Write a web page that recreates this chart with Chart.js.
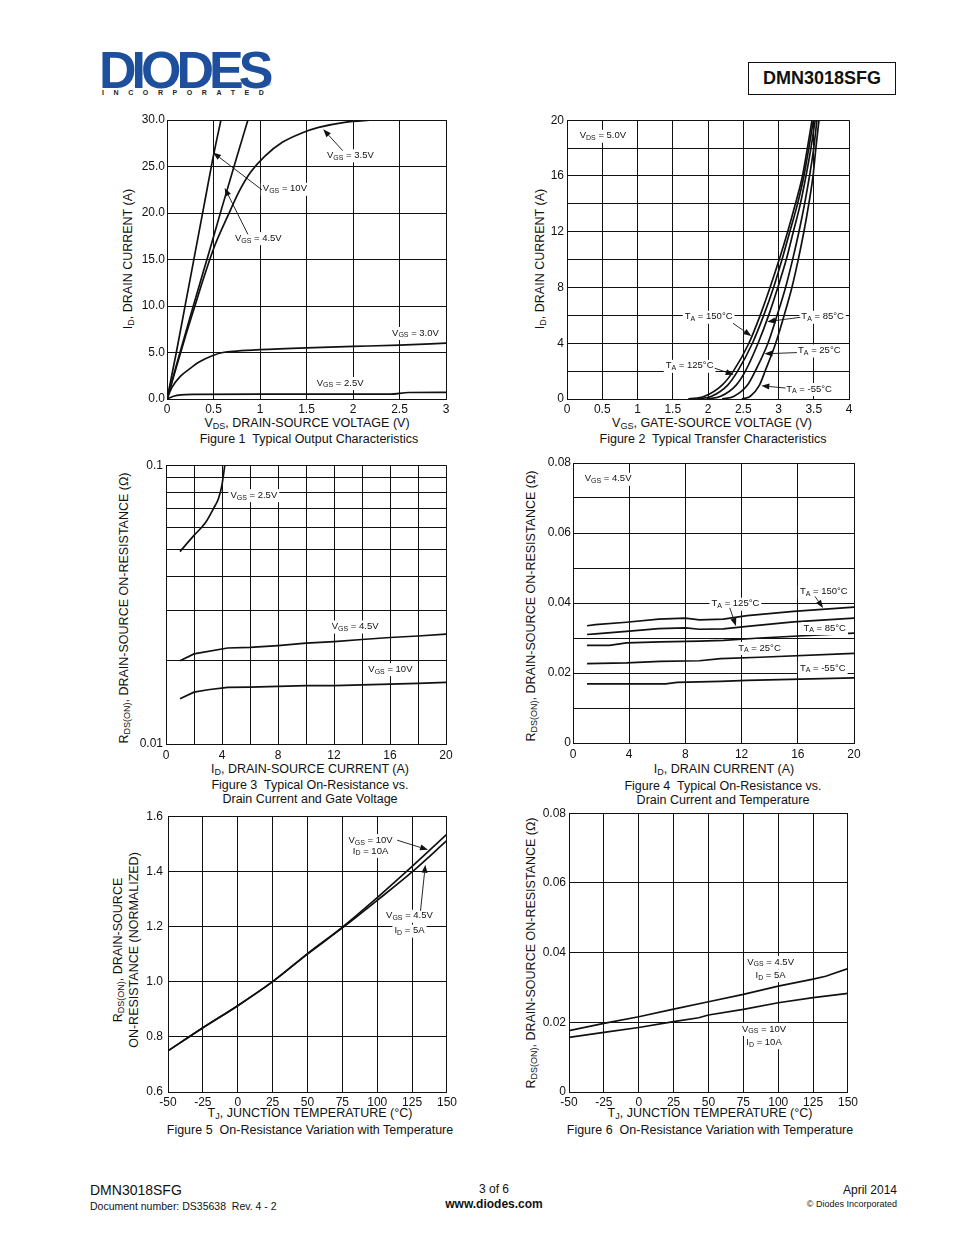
<!DOCTYPE html>
<html lang="en">
<head>
<meta charset="UTF-8" />
<title>DMN3018SFG - page 3</title>
<script src="https://cdn.jsdelivr.net/npm/chart.js"></script>
<style>
  body { margin: 0; background: #fff; }
  #page { position: relative; width: 954px; height: 1235px; overflow: hidden; font-family: "Liberation Sans", Arial, sans-serif; color: #111; }
  #page canvas { position: absolute; }
  .t { position: absolute; white-space: nowrap; font-size: 12.5px; line-height: 1; transform: translate(-50%, -50%); }
  .ty { transform: translate(-50%, -50%) rotate(-90deg); }
  .t sub { font-size: 0.72em; vertical-align: -0.3em; line-height: 0; }
  .logo { position: absolute; left: 99px; top: 44px; font-size: 52px; font-weight: bold; color: #1d4f9c; letter-spacing: -5px; line-height: 52px; }
  .inc { position: absolute; left: 102px; top: 89px; font-size: 7px; font-weight: bold; letter-spacing: 9.6px; line-height: 8px; color: #222; }
  .reg { position: absolute; left: 266px; top: 80px; font-size: 7px; color: #1d4f9c; }
  .pn { position: absolute; left: 748px; top: 62px; width: 148px; height: 33px; box-sizing: border-box; border: 1.3px solid #111;
        display: flex; align-items: center; justify-content: center; font-size: 18px; font-weight: bold; }
  .ft { position: absolute; white-space: nowrap; line-height: 1; }
</style>
</head>
<body>
<div id="page">
  <!-- header -->
  <div class="logo">DIODES</div>
  <div class="reg">®</div>
  <div class="inc">INCORPORATED</div>
  <div class="pn">DMN3018SFG</div>

  <!-- figure 1 -->
  <div class="t ty" style="left:128px; top:259px;">I<sub>D</sub>, DRAIN CURRENT (A)</div>
  <div class="t" style="left:307px; top:423px;">V<sub>DS</sub>, DRAIN-SOURCE VOLTAGE (V)</div>
  <div class="t" style="left:309px; top:439px;">Figure 1&nbsp; Typical Output Characteristics</div>

  <!-- figure 2 -->
  <div class="t ty" style="left:540px; top:259px;">I<sub>D</sub>, DRAIN CURRENT (A)</div>
  <div class="t" style="left:712px; top:423px;">V<sub>GS</sub>, GATE-SOURCE VOLTAGE (V)</div>
  <div class="t" style="left:713px; top:439px;">Figure 2&nbsp; Typical Transfer Characteristics</div>

  <!-- figure 3 -->
  <div class="t ty" style="left:124px; top:608px;">R<sub>DS(ON)</sub>, DRAIN-SOURCE ON-RESISTANCE (Ω)</div>
  <div class="t" style="left:310px; top:769px;">I<sub>D</sub>, DRAIN-SOURCE CURRENT (A)</div>
  <div class="t" style="left:310px; top:785px;">Figure 3&nbsp; Typical On-Resistance vs.</div>
  <div class="t" style="left:310px; top:799px;">Drain Current and Gate Voltage</div>

  <!-- figure 4 -->
  <div class="t ty" style="left:531px; top:606px;">R<sub>DS(ON)</sub>, DRAIN-SOURCE ON-RESISTANCE (Ω)</div>
  <div class="t" style="left:724px; top:769px;">I<sub>D</sub>, DRAIN CURRENT (A)</div>
  <div class="t" style="left:723px; top:786px;">Figure 4&nbsp; Typical On-Resistance vs.</div>
  <div class="t" style="left:723px; top:800px;">Drain Current and Temperature</div>

  <!-- figure 5 -->
  <div class="t ty" style="left:118px; top:950px;">R<sub>DS(ON)</sub>, DRAIN-SOURCE</div>
  <div class="t ty" style="left:134px; top:950px;">ON-RESISTANCE (NORMALIZED)</div>
  <div class="t" style="left:310px; top:1113px;">T<sub>J</sub>, JUNCTION TEMPERATURE (°C)</div>
  <div class="t" style="left:310px; top:1130px;">Figure 5&nbsp; On-Resistance Variation with Temperature</div>

  <!-- figure 6 -->
  <div class="t ty" style="left:531px; top:953px;">R<sub>DS(ON)</sub>, DRAIN-SOURCE ON-RESISTANCE (Ω)</div>
  <div class="t" style="left:710px; top:1113px;">T<sub>J</sub>, JUNCTION TEMPERATURE (°C)</div>
  <div class="t" style="left:710px; top:1130px;">Figure 6&nbsp; On-Resistance Variation with Temperature</div>

  <!-- footer -->
  <div class="ft" style="left:90px; top:1183px; font-size:14px;">DMN3018SFG</div>
  <div class="ft" style="left:90px; top:1201px; font-size:10.5px;">Document number: DS35638&nbsp; Rev. 4 - 2</div>
  <div class="ft" style="left:494px; top:1183px; font-size:12px; transform:translateX(-50%);">3 of 6</div>
  <div class="ft" style="left:494px; top:1198px; font-size:12px; font-weight:bold; transform:translateX(-50%);">www.diodes.com</div>
  <div class="ft" style="right:57px; top:1184px; font-size:12px;">April 2014</div>
  <div class="ft" style="right:57px; top:1200px; font-size:9px;">© Diodes Incorporated</div>
</div>

<script>
  // ---- Figure 1: output characteristics (VDS in V, ID in A)
  const fig1XTicks = [0, 0.5, 1, 1.5, 2, 2.5, 3];
  const fig1YTicks = [0, 5, 10, 15, 20, 25, 30];
  const fig1V_10 = [0, 0.1, 0.2, 0.3, 0.4, 0.5, 0.58];
  const fig1I_10 = [0, 5.0, 10.3, 15.6, 20.9, 26.2, 30];
  const fig1V_45 = [0, 0.1, 0.2, 0.3, 0.45, 0.6, 0.75, 0.87];
  const fig1I_45 = [0, 3.6, 7.1, 10.6, 15.7, 20.9, 26.0, 30];
  const fig1V_35 = [0, 0.1, 0.2, 0.3, 0.4, 0.51, 0.65, 0.78, 0.9, 1.05, 1.24, 1.45, 1.63, 1.91, 2.22];
  const fig1I_35 = [0, 3.4, 6.8, 10, 13.2, 16.4, 19.6, 22.4, 24.4, 26.1, 27.6, 28.6, 29.2, 29.75, 30];
  const fig1V_30 = [0, 0.05, 0.14, 0.25, 0.35, 0.5, 0.6, 0.75, 1, 1.5, 2, 2.5, 3];
  const fig1I_30 = [0, 1.2, 2.4, 3.3, 4.0, 4.7, 5.0, 5.15, 5.3, 5.5, 5.65, 5.8, 6.0];
  const fig1V_25 = [0, 0.07, 0.15, 0.3, 1, 2, 2.4, 2.6, 3];
  const fig1I_25 = [0, 0.3, 0.45, 0.5, 0.52, 0.52, 0.52, 0.7, 0.72];

  // ---- Figure 2: transfer characteristics (ID in A, VGS in V per temperature)
  const fig2XTicks = [0, 0.5, 1, 1.5, 2, 2.5, 3, 3.5, 4];
  const fig2YTicks = [0, 2, 4, 6, 8, 10, 12, 14, 16, 18, 20];
  const fig2Id    = [0, 0.2, 1, 2, 4, 6, 8, 10, 12, 14, 16, 18, 20];
  const fig2V_150 = [1.72, 1.95, 2.20, 2.36, 2.58, 2.74, 2.88, 3.01, 3.13, 3.24, 3.34, 3.41, 3.475];
  const fig2V_125 = [1.84, 2.05, 2.28, 2.42, 2.63, 2.79, 2.93, 3.05, 3.16, 3.27, 3.36, 3.43, 3.495];
  const fig2V_85  = [1.98, 2.18, 2.40, 2.53, 2.71, 2.86, 2.99, 3.11, 3.21, 3.31, 3.39, 3.46, 3.52];
  const fig2V_25  = [2.20, 2.37, 2.56, 2.67, 2.85, 2.98, 3.10, 3.20, 3.29, 3.37, 3.44, 3.50, 3.545];
  const fig2V_m55 = [2.48, 2.60, 2.73, 2.81, 2.96, 3.08, 3.19, 3.28, 3.36, 3.43, 3.49, 3.53, 3.574];

  // ---- Figure 3: RDS(ON) vs ID and VGS (log axis)
  const fig3XTicks = [0, 2, 4, 6, 8, 10, 12, 14, 16, 18, 20];
  const fig3YTicks = [0.01, 0.02, 0.03, 0.04, 0.05, 0.06, 0.07, 0.08, 0.09, 0.1];
  const fig3I_25 = [1, 2, 2.8, 3.4, 3.75, 4.0, 4.1, 4.2];
  const fig3R_25 = [0.049, 0.056, 0.062, 0.070, 0.076, 0.085, 0.092, 0.1];
  const fig3I_45 = [1, 2, 4.4, 6, 8, 10, 12, 14, 16, 18, 20];
  const fig3R_45 = [0.0199, 0.02105, 0.0221, 0.0222, 0.02255, 0.0230, 0.0233, 0.0237, 0.0241, 0.0244, 0.0248];
  const fig3I_10 = [1, 2, 3, 4.4, 6, 8, 10, 12, 14, 16, 18, 20];
  const fig3R_10 = [0.01453, 0.01535, 0.01565, 0.01596, 0.0160, 0.0161, 0.0162, 0.0162, 0.0163, 0.0164, 0.0165, 0.01664];

  // ---- Figure 4: RDS(ON) vs ID and temperature
  const fig4XTicks = [0, 4, 8, 12, 16, 20];
  const fig4YTicks = [0, 0.01, 0.02, 0.03, 0.04, 0.05, 0.06, 0.07, 0.08];
  const fig4I_hot = [1, 1.6, 3.8, 6.1, 8, 9, 10.7, 12.4, 15.7, 20];
  const fig4R_150 = [0.0335, 0.0338, 0.0345, 0.0354, 0.0357, 0.0352, 0.0354, 0.0364, 0.0376, 0.0388];
  const fig4R_125 = [0.0310, 0.0312, 0.0319, 0.0327, 0.0329, 0.0325, 0.0326, 0.0333, 0.0346, 0.0357];
  const fig4I_85  = [1, 2.6, 3.8, 6.2, 9, 10.7, 13.3, 20];
  const fig4R_85  = [0.0279, 0.0279, 0.0286, 0.0289, 0.0291, 0.0293, 0.0300, 0.0314];
  const fig4I_25  = [1, 3.8, 6.2, 9, 10.5, 13.3, 20];
  const fig4R_25  = [0.0227, 0.0229, 0.0233, 0.0235, 0.0241, 0.0245, 0.0256];
  const fig4I_m55 = [1, 6.6, 7.4, 10.5, 12.4, 20];
  const fig4R_m55 = [0.0169, 0.0169, 0.0173, 0.0176, 0.0179, 0.0186];

  // ---- Figure 5: normalized RDS(ON) vs TJ
  const fig5XTicks = [-50, -25, 0, 25, 50, 75, 100, 125, 150];
  const fig5YTicks = [0.6, 0.8, 1.0, 1.2, 1.4, 1.6];
  const fig5T   = [-50, -25, 0, 25, 50, 75, 100, 125, 150];
  const fig5R10 = [0.749, 0.833, 0.913, 1.0, 1.102, 1.198, 1.305, 1.418, 1.535];
  const fig5R45 = [0.749, 0.833, 0.913, 1.0, 1.100, 1.195, 1.295, 1.398, 1.512];

  // ---- Figure 6: RDS(ON) vs TJ
  const fig6XTicks = [-50, -25, 0, 25, 50, 75, 100, 125, 150];
  const fig6YTicks = [0, 0.02, 0.04, 0.06, 0.08];
  const fig6T45 = [-50, -25, 0, 25, 50, 75, 100, 125, 134, 150];
  const fig6R45 = [0.0176, 0.0197, 0.0216, 0.0238, 0.0259, 0.0280, 0.0304, 0.0324, 0.0332, 0.0354];
  const fig6T10 = [-50, -25, 0, 25, 43, 50, 75, 100, 125, 150];
  const fig6R10 = [0.0157, 0.0171, 0.0185, 0.0202, 0.0213, 0.0221, 0.0237, 0.0256, 0.0271, 0.0283];

  // annotation labels ("_" = subscript part) and arrows [x1, y1, tipX, tipY], in data units
  const fig1Labels = [
    { x: 1.72, y: 26.2, t: ['V', '_GS', ' = 3.5V'] },
    { x: 1.03, y: 22.6, t: ['V', '_GS', ' = 10V'] },
    { x: 0.73, y: 17.3, t: ['V', '_GS', ' = 4.5V'] },
    { x: 2.42, y: 7.1,  t: ['V', '_GS', ' = 3.0V'] },
    { x: 1.61, y: 1.72, t: ['V', '_GS', ' = 2.5V'] }
  ];
  const fig1Arrows = [[1.89, 26.7, 1.68, 29.0], [1.02, 22.5, 0.495, 26.5], [0.87, 17.7, 0.62, 22.7]];

  const fig2Labels = [
    { x: 0.18,  y: 18.88, t: ['V', '_DS', ' = 5.0V'] },
    { x: 1.67,  y: 5.9,   t: ['T', '_A', ' = 150°C'] },
    { x: 3.324, y: 5.9,   t: ['T', '_A', ' = 85°C'] },
    { x: 3.277, y: 3.48,  t: ['T', '_A', ' = 25°C'] },
    { x: 1.40,  y: 2.38,  t: ['T', '_A', ' = 125°C'] },
    { x: 3.11,  y: 0.714, t: ['T', '_A', ' = -55°C'] }
  ];
  const fig2Arrows = [[2.355, 5.43, 2.615, 4.52], [3.31, 5.86, 2.84, 5.55], [3.26, 3.33, 2.80, 3.24],
                      [2.095, 2.21, 2.364, 1.74], [3.10, 0.786, 2.757, 0.95]];

  const fig3Labels = [
    { x: 4.6,   y: 0.0781,  t: ['V', '_GS', ' = 2.5V'] },
    { x: 11.84, y: 0.02638, t: ['V', '_GS', ' = 4.5V'] },
    { x: 14.45, y: 0.01856, t: ['V', '_GS', ' = 10V'] }
  ];

  const fig4Labels = [
    { x: 0.83,  y: 0.0755,  t: ['V', '_GS', ' = 4.5V'] },
    { x: 16.15, y: 0.04333, t: ['T', '_A', ' = 150°C'] },
    { x: 9.86,  y: 0.0398,  t: ['T', '_A', ' = 125°C'] },
    { x: 16.4,  y: 0.03286, t: ['T', '_A', ' = 85°C'] },
    { x: 11.76, y: 0.02714, t: ['T', '_A', ' = 25°C'] },
    { x: 16.15, y: 0.02143, t: ['T', '_A', ' = -55°C'] }
  ];
  const fig4Arrows = [[17.22, 0.0419, 17.8, 0.0386], [11.16, 0.0386, 11.6, 0.0334]];

  const fig5Labels = [
    { x: 95.2,  y: 1.513, c: 1, t: ['V', '_GS', ' = 10V'] },
    { x: 95.2,  y: 1.474, c: 1, t: ['I', '_D', ' = 10A'] },
    { x: 123.1, y: 1.239, c: 1, t: ['V', '_GS', ' = 4.5V'] },
    { x: 123.1, y: 1.185, c: 1, t: ['I', '_D', ' = 5A'] }
  ];
  const fig5Arrows = [[114.3, 1.513, 136.4, 1.478], [131, 1.257, 134.5, 1.424]];

  const fig6Labels = [
    { x: 94.5, y: 0.03733, c: 1, t: ['V', '_GS', ' = 4.5V'] },
    { x: 94.5, y: 0.03352, c: 1, t: ['I', '_D', ' = 5A'] },
    { x: 89.8, y: 0.0181,  c: 1, t: ['V', '_GS', ' = 10V'] },
    { x: 89.8, y: 0.01429, c: 1, t: ['I', '_D', ' = 10A'] }
  ];

  Chart.defaults.font.family = '"Liberation Sans", Arial, sans-serif';
  Chart.defaults.font.size = 12;
  Chart.defaults.color = '#111';

  const FONT = '"Liberation Sans", Arial, sans-serif';

  // text labels with subscripts + arrows, placed with the chart's own scales
  const notesPlugin = {
    id: 'notes',
    afterDatasetsDraw(chart, args, o) {
      const ctx = chart.ctx, sx = chart.scales.x, sy = chart.scales.y;
      ctx.save();
      ctx.textBaseline = 'middle';
      (o.labels || []).forEach(n => {
        const px = sx.getPixelForValue(n.x), py = sy.getPixelForValue(n.y);
        let w = 0;
        const parts = n.t.map(s => {
          const sub = s[0] === '_';
          const txt = sub ? s.slice(1) : s;
          ctx.font = (sub ? '7px ' : '9.5px ') + FONT;
          const mw = ctx.measureText(txt).width;
          w += mw;
          return { txt, sub, mw };
        });
        let x0 = n.c ? px - w / 2 : px;
        ctx.fillStyle = '#fff';
        ctx.fillRect(x0 - 2, py - 6, w + 4, 13);
        ctx.fillStyle = '#111';
        parts.forEach(p => {
          ctx.font = (p.sub ? '7px ' : '9.5px ') + FONT;
          ctx.fillText(p.txt, x0, p.sub ? py + 2.5 : py);
          x0 += p.mw;
        });
      });
      ctx.strokeStyle = '#111';
      ctx.fillStyle = '#111';
      ctx.lineWidth = 0.9;
      (o.arrows || []).forEach(a => {
        const x1 = sx.getPixelForValue(a[0]), y1 = sy.getPixelForValue(a[1]);
        const x2 = sx.getPixelForValue(a[2]), y2 = sy.getPixelForValue(a[3]);
        const ang = Math.atan2(y2 - y1, x2 - x1);
        const bx = x2 - 8 * Math.cos(ang), by = y2 - 8 * Math.sin(ang);
        ctx.beginPath();
        ctx.moveTo(x1, y1);
        ctx.lineTo(bx, by);
        ctx.stroke();
        ctx.beginPath();
        ctx.moveTo(x2, y2);
        ctx.lineTo(bx + 3 * Math.sin(ang), by - 3 * Math.cos(ang));
        ctx.lineTo(bx - 3 * Math.sin(ang), by + 3 * Math.cos(ang));
        ctx.closePath();
        ctx.fill();
      });
      ctx.restore();
    }
  };

  const PADL = 45, PADR = 12, PADT = 10, PADB = 22;

  function pts(xs, ys) { return xs.map((v, i) => ({ x: v, y: ys[i] })); }

  function line(xs, ys, smooth) {
    return {
      data: pts(xs, ys), borderColor: '#111', borderWidth: 1.7, pointRadius: 0, fill: false, showLine: true,
      cubicInterpolationMode: smooth ? 'monotone' : 'default', tension: 0
    };
  }

  function axis(isY, type, min, max, ticks, fmt, pad) {
    return {
      type, min, max,
      afterBuildTicks: s => { s.ticks = ticks.map(v => ({ value: v })); },
      afterFit: s => { if (isY) s.width = PADL; else s.height = PADB; },
      ticks: { autoSkip: false, maxRotation: 0, padding: pad, color: '#111', font: { size: 12 }, callback: fmt },
      grid: { color: '#111', lineWidth: 1, drawTicks: false },
      border: { color: '#111', width: 1 }
    };
  }

  function addChart(box, datasets, xAxis, yAxis, labels, arrows) {
    const c = document.createElement('canvas');
    const w = box.R - box.L + PADL + PADR, h = box.B - box.T + PADT + PADB;
    c.width = w; c.height = h;
    c.style.left = (box.L - PADL) + 'px';
    c.style.top = (box.T - PADT) + 'px';
    c.style.width = w + 'px';
    c.style.height = h + 'px';
    document.getElementById('page').appendChild(c);
    new Chart(c.getContext('2d'), {
      type: 'scatter',
      data: { datasets },
      options: {
        responsive: false, animation: false, events: [],
        layout: { padding: { left: 0, top: PADT, right: PADR, bottom: 0 } },
        plugins: { legend: { display: false }, tooltip: { enabled: false }, notes: { labels, arrows } },
        scales: { x: xAxis, y: yAxis }
      },
      plugins: [notesPlugin]
    });
  }

  const near = (a, b) => Math.abs(a - b) < 1e-9;

  // Figure 1
  addChart({ L: 167, T: 120, R: 446, B: 399 },
    [line(fig1V_10, fig1I_10, 1), line(fig1V_45, fig1I_45, 1), line(fig1V_35, fig1I_35, 1),
     line(fig1V_30, fig1I_30, 1), line(fig1V_25, fig1I_25, 1)],
    axis(false, 'linear', 0, 3, fig1XTicks, v => String(v), 3),
    axis(true, 'linear', 0, 30, fig1YTicks, v => v.toFixed(1), 2),
    fig1Labels, fig1Arrows);

  // Figure 2
  addChart({ L: 567, T: 120, R: 849, B: 399 },
    [line(fig2V_150, fig2Id, 1), line(fig2V_125, fig2Id, 1), line(fig2V_85, fig2Id, 1),
     line(fig2V_25, fig2Id, 1), line(fig2V_m55, fig2Id, 1)],
    axis(false, 'linear', 0, 4, fig2XTicks, v => String(v), 3),
    axis(true, 'linear', 0, 20, fig2YTicks, v => (v % 4 === 0 ? String(v) : ''), 3),
    fig2Labels, fig2Arrows);

  // Figure 3
  addChart({ L: 166, T: 465, R: 446, B: 744 },
    [line(fig3I_25, fig3R_25, 1), line(fig3I_45, fig3R_45, 0), line(fig3I_10, fig3R_10, 0)],
    axis(false, 'linear', 0, 20, fig3XTicks, v => (v % 4 === 0 ? String(v) : ''), 4),
    axis(true, 'logarithmic', 0.01, 0.1, fig3YTicks, v => (near(v, 0.1) ? '0.1' : near(v, 0.01) ? '0.01' : ''), 3),
    fig3Labels, []);

  // Figure 4
  addChart({ L: 573, T: 463, R: 854, B: 743 },
    [line(fig4I_hot, fig4R_150, 0), line(fig4I_hot, fig4R_125, 0), line(fig4I_85, fig4R_85, 0),
     line(fig4I_25, fig4R_25, 0), line(fig4I_m55, fig4R_m55, 0)],
    axis(false, 'linear', 0, 20, fig4XTicks, v => String(v), 4),
    axis(true, 'linear', 0, 0.08, fig4YTicks, v => {
      const k = Math.round(v * 100);
      return k % 2 ? '' : (k === 0 ? '0' : v.toFixed(2));
    }, 2),
    fig4Labels, fig4Arrows);

  // Figure 5
  addChart({ L: 168, T: 814, R: 448, B: 1092 },
    [line(fig5T, fig5R10, 1), line(fig5T, fig5R45, 1)],
    axis(false, 'linear', -50, 150, fig5XTicks, v => String(v), 3),
    axis(true, 'linear', 0.6, 1.6, fig5YTicks, v => v.toFixed(1), 5),
    fig5Labels, fig5Arrows);

  // Figure 6
  addChart({ L: 569, T: 813, R: 849, B: 1092 },
    [line(fig6T45, fig6R45, 0), line(fig6T10, fig6R10, 0)],
    axis(false, 'linear', -50, 150, fig6XTicks, v => String(v), 3),
    axis(true, 'linear', 0, 0.08, fig6YTicks, v => (near(v, 0) ? '0' : v.toFixed(2)), 3),
    fig6Labels, []);
</script>
</body>
</html>
